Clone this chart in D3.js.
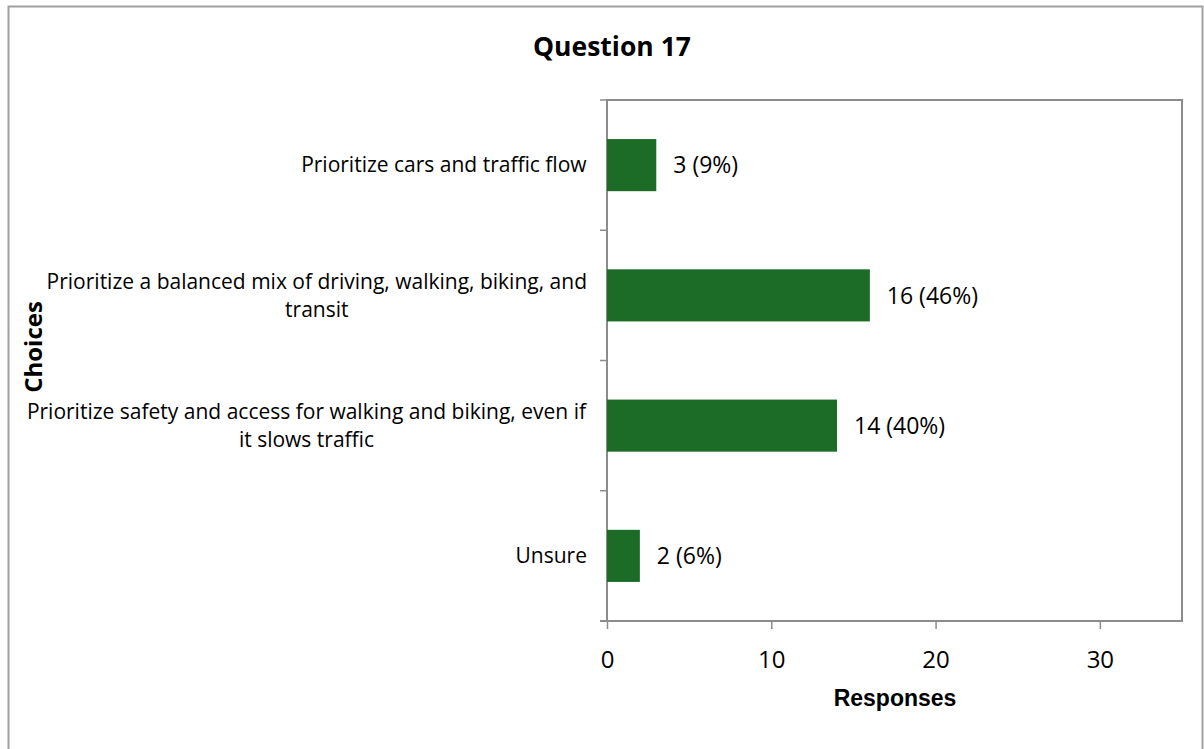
<!DOCTYPE html>
<html><head><meta charset="utf-8">
<script src="https://cdn.jsdelivr.net/npm/d3@7"></script>
<style>body{margin:0;background:#fff}svg{display:block}</style>
</head><body>
<svg id="c" width="1204" height="749"></svg>
<script>
const categories = [
  "Prioritize cars and traffic flow",
  "Prioritize a balanced mix of driving, walking, biking, and transit",
  "Prioritize safety and access for walking and biking, even if it slows traffic",
  "Unsure"
];
const categoryLines = [
  ["Prioritize cars and traffic flow"],
  ["Prioritize a balanced mix of driving, walking, biking, and", "transit"],
  ["Prioritize safety and access for walking and biking, even if", "it slows traffic"],
  ["Unsure"]
];
const values = [3, 16, 14, 2];
const valueLabels = ["3 (9%)", "16 (46%)", "14 (40%)", "2 (6%)"];
const xTicks = [0, 10, 20, 30];
const xMax = 35;

const svg = d3.select("#c");
const font = "'Open Sans', sans-serif";
const L = 607, R = 1182, T = 100, B = 621;

svg.append("rect").attr("x", 8.5).attr("y", 6.5).attr("width", 1194).attr("height", 760)
  .attr("fill", "#fff").attr("stroke", "#a0a0a0").attr("stroke-width", 2);

const x = d3.scaleLinear().domain([0, xMax]).range([L, R]);
const y = d3.scaleBand().domain(categories).range([T, B]).paddingInner(0.6).paddingOuter(0.3);

svg.append("rect").attr("x", L).attr("y", T).attr("width", R - L).attr("height", B - T)
  .attr("fill", "none").attr("stroke", "#8c8c8c").attr("stroke-width", 2);

svg.selectAll("rect.bar").data(values).enter().append("rect").attr("class", "bar")
  .attr("x", x(0)).attr("y", (d, i) => y(categories[i]))
  .attr("width", d => x(d) - x(0)).attr("height", y.bandwidth())
  .attr("fill", "#1c6b27");

svg.selectAll("text.vl").data(values).enter().append("text").attr("class", "vl")
  .attr("x", d => x(d) + 17).attr("y", (d, i) => y(categories[i]) + y.bandwidth() / 2)
  .attr("dy", "0.36em").attr("font-family", font).attr("font-size", 23).attr("fill", "#000")
  .text((d, i) => valueLabels[i]);

const xAxis = d3.axisBottom(x).tickValues(xTicks).tickSize(8).tickPadding(22);
const gx = svg.append("g").attr("transform", `translate(0,${B})`).call(xAxis);
gx.select(".domain").attr("stroke", "#8c8c8c").attr("stroke-width", 2).attr("d", `M${L - 7},0H${R}`);
gx.selectAll(".tick line").attr("stroke", "#8c8c8c").attr("stroke-width", 1.5);
gx.selectAll(".tick text").attr("font-family", font).attr("font-size", 24).attr("fill", "#000");

const step = (B - T) / categories.length;
const bounds = d3.range(categories.length + 1).map(i => T + i * step);
svg.selectAll("line.yt").data(bounds).enter().append("line").attr("class", "yt")
  .attr("x1", L - 7).attr("x2", L).attr("y1", d => d).attr("y2", d => d)
  .attr("stroke", "#8c8c8c").attr("stroke-width", 1.5);

const labelRight = 587, lh = 28, fs = 21;
categoryLines.forEach((lines, i) => {
  const cy = y(categories[i]) + y.bandwidth() / 2;
  const t = svg.append("text").attr("font-family", font).attr("font-size", fs).attr("fill", "#000");
  lines.forEach((ln, j) => {
    t.append("tspan").attr("x", 0).attr("y", cy + (j - (lines.length - 1) / 2) * lh).attr("dy", "0.35em").text(ln);
  });
  const w = t.node().getBBox().width;
  t.attr("text-anchor", "middle");
  t.selectAll("tspan").attr("x", labelRight - w / 2);
});

svg.append("text").attr("x", 612).attr("y", 56).attr("text-anchor", "middle")
  .attr("font-family", font).attr("font-weight", "bold").attr("font-size", 26.5).text("Question 17");

svg.append("text").attr("x", 895).attr("y", 706).attr("text-anchor", "middle")
  .attr("font-family", "'Liberation Sans', Arial, sans-serif").attr("font-weight", "bold").attr("font-size", 23).text("Responses");
svg.append("text").attr("transform", "translate(42,347) rotate(-90)").attr("text-anchor", "middle")
  .attr("font-family", font).attr("font-weight", "bold").attr("font-size", 24).text("Choices");
</script>
</body></html>
